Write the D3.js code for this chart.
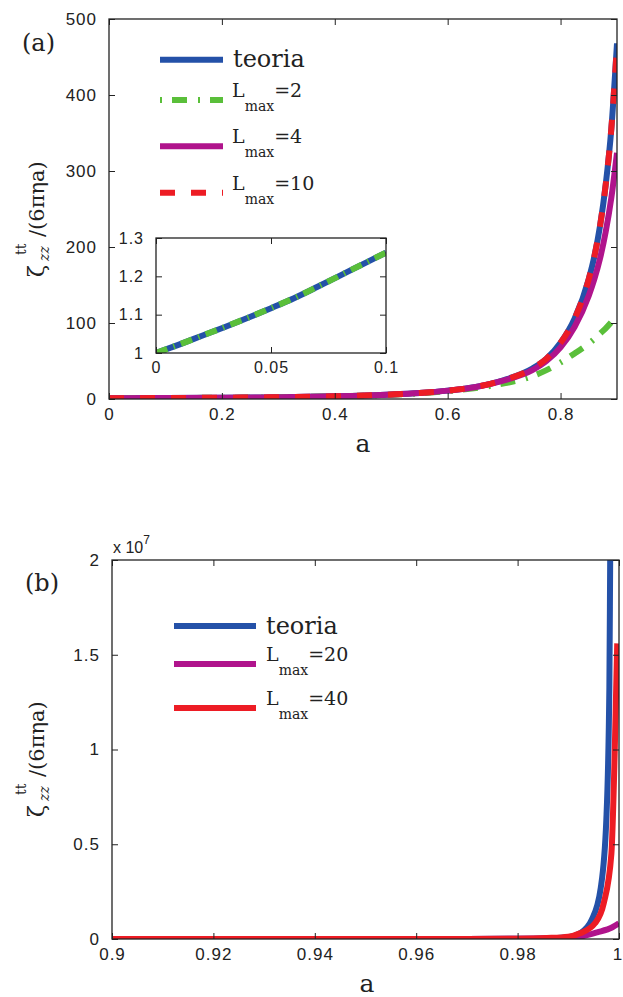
<!DOCTYPE html>
<html><head><meta charset="utf-8">
<script src="https://cdn.jsdelivr.net/npm/d3@7"></script>
<style>
body{margin:0;background:#fff;}
svg{display:block;}
.tick text{font-family:"Liberation Sans",Arial,sans-serif;font-size:17px;fill:#222;letter-spacing:1px;}
.serif{font-family:"DejaVu Serif",serif;fill:#222;}
</style></head>
<body>
<svg id="c" width="623" height="997"></svg>
<script>
// ---------- DATA ----------
// Panel (a)
const aMain   = [0,0.1,0.2,0.3,0.4,0.5,0.55,0.6,0.65,0.7,0.75,0.775,0.8,0.825,0.85,0.86,0.87,0.88,0.89,0.9];
const teoriaA = [1,1.26,1.65,2.3,3.5,5.9,7.9,11,16,25,40,53,74,106,158,188,228,282,356,468];
const lmax2A  = [1,1.26,1.64,2.25,3.4,5.6,7.4,10.3,14.5,20.5,30,38,48,60,73,79,86,93,101,110];
const lmax4A  = [1,1.26,1.65,2.3,3.5,5.9,7.9,11,15.8,24.5,38,50,68,95,136,158,185,220,265,324];
const lmax10A = [1,1.26,1.65,2.3,3.5,5.9,7.9,11,16,25,40,53,74,106,158,188,228,282,356,466];
// inset of (a)
const aInset      = [0,0.01,0.02,0.03,0.04,0.05,0.06,0.07,0.08,0.09,0.1];
const teoriaInset = [1,1.022,1.045,1.068,1.092,1.117,1.143,1.172,1.202,1.232,1.262];
const lmax2Inset  = [1,1.022,1.045,1.068,1.092,1.117,1.143,1.172,1.202,1.232,1.262];
// Panel (b)
const aTeoriaB = [0.9,0.95,0.97,0.98,0.985,0.99,0.9923,0.9946,0.9964,0.9975,0.9981,0.99826,0.9985];
const teoriaB  = [0,1e3,6e3,1.5e4,3e4,9e4,3e5,1e6,2.7e6,6.3e6,1.33e7,2.0e7,3.0e7];
const aL20B = [0.9,0.95,0.97,0.98,0.985,0.99,0.993,0.9957,0.9987,1.0];
const lmax20B = [0,1e3,6e3,1.5e4,3e4,7e4,1.6e5,3.5e5,6.2e5,8.3e5];
const aL40B = [0.9,0.95,0.97,0.98,0.9858,0.99,0.9923,0.9953,0.997,0.9985,0.99915,0.99965];
const lmax40B = [0,1e3,6e3,1.5e4,5e4,1.2e5,3e5,8.4e5,1.9e6,4.5e6,9.8e6,1.56e7];

const xTicksA = [0,0.2,0.4,0.6,0.8];
const yTicksA = [0,100,200,300,400,500];
const xTicksInset = [0,0.05,0.1];
const yTicksInset = [1,1.1,1.2,1.3];
const xTicksB = [0.9,0.92,0.94,0.96,0.98,1];
const yTicksB = [0,0.5e7,1e7,1.5e7,2e7];

const C = {blue:"#2451a8", green:"#5abf3a", magenta:"#b0148c", red:"#ed1c24"};

// ---------- DRAW ----------
const svg = d3.select("#c");
const zip = (xs, ys) => xs.map((x,i)=>[x,ys[i]]);

function panel(id, box, xd, yd, xt, yt, xfmt, yfmt, fs, labels=true){
  const x = d3.scaleLinear().domain(xd).range([box.l, box.r]);
  const y = d3.scaleLinear().domain(yd).range([box.b, box.t]);
  const g = svg.append("g");
  g.append("rect").attr("x",box.l).attr("y",box.t).attr("width",box.r-box.l).attr("height",box.b-box.t)
    .attr("fill","#fff");
  svg.append("clipPath").attr("id",id).append("rect")
    .attr("x",box.l).attr("y",box.t).attr("width",box.r-box.l).attr("height",box.b-box.t);
  const curves = g.append("g").attr("clip-path",`url(#${id})`);
  const axes = g.append("g");
  const mk = (ax, tr, showLab) => {
    const a = axes.append("g").attr("transform",tr).call(ax);
    a.select(".domain").remove();
    a.selectAll(".tick line").attr("stroke","#222").attr("stroke-width",1);
    a.selectAll(".tick text").style("font-size",fs+"px");
    if(!showLab) a.selectAll(".tick text").remove();
    return a;
  };
  const bx = mk(d3.axisBottom(x).tickValues(xt).tickFormat(xfmt).tickSize(-6).tickPadding(9), `translate(0,${box.b})`, labels);
  mk(d3.axisTop(x).tickValues(xt).tickSize(-6), `translate(0,${box.t})`, false);
  mk(d3.axisLeft(y).tickValues(yt).tickFormat(yfmt).tickSize(-6).tickPadding(12), `translate(${box.l},0)`, labels);
  mk(d3.axisRight(y).tickValues(yt).tickSize(-6), `translate(${box.r},0)`, false);
  axes.append("rect").attr("x",box.l).attr("y",box.t).attr("width",box.r-box.l).attr("height",box.b-box.t)
    .attr("fill","none").attr("stroke","#222").attr("stroke-width",1.3);
  return {x,y,curves,axes,bx};
}

function drawLine(p, data, color, w, dash){
  const line = d3.line().x(d=>p.x(d[0])).y(d=>p.y(d[1])).curve(d3.curveMonotoneX);
  p.curves.append("path").attr("d",line(data)).attr("fill","none")
    .attr("stroke",color).attr("stroke-width",w).attr("stroke-linejoin","round")
    .attr("stroke-dasharray",dash||null);
}

// Panel (a)
const pA = panel("clipA",{l:109,r:617,t:19,b:399},[0,0.9],[0,500],xTicksA,yTicksA,
  d=>d===0?"0":d3.format(".1f")(d), d=>d, 17);
drawLine(pA, zip(aMain,teoriaA), C.blue, 6);
drawLine(pA, zip(aMain,lmax2A), C.green, 6, "2,10,15,11");
drawLine(pA, zip(aMain,lmax4A), C.magenta, 6);
drawLine(pA, zip(aMain,lmax10A), C.red, 6, "15,16");

// inset
const pI = panel("clipI",{l:156,r:386,t:238,b:353},[0,0.1],[1,1.3],xTicksInset,yTicksInset,
  d=>d===0?"0":String(d), d=>d===1?"1":d3.format(".1f")(d), 16);
drawLine(pI, zip(aInset,teoriaInset), C.blue, 6);
drawLine(pI, zip(aInset,lmax2Inset), C.green, 6, "12,6.5,1.5,6.5");
pI.axes.raise();

// Panel (b)
const pB = panel("clipB",{l:112,r:619,t:560,b:939},[0.9,1],[0,2e7],xTicksB,yTicksB,
  d=>d===1?"1":String(d), d=>String(d/1e7), 17);
pB.bx.selectAll(".tick text").filter(d=>d===1).attr("dx",-1.5);
drawLine(pB, zip(aTeoriaB,teoriaB), C.blue, 6);
drawLine(pB, zip(aL20B,lmax20B), C.magenta, 6);
drawLine(pB, zip(aL40B,lmax40B), C.red, 6);

// x 10^7
const ex = svg.append("text").attr("x",113).attr("y",553)
  .style("font-family","Liberation Sans,Arial,sans-serif").style("font-size","16px").attr("fill","#222");
ex.append("tspan").text("x 10");
ex.append("tspan").attr("dy",-9).style("font-size","12px").text("7");

// ---------- LEGENDS ----------
function legendEntry(x1,x2,ly,color,dash,tx,label,sub,eq){
  svg.append("line").attr("x1",x1).attr("x2",x2).attr("y1",ly).attr("y2",ly)
    .attr("stroke",color).attr("stroke-width",6).attr("stroke-dasharray",dash||null);
  if(!sub){
    svg.append("text").attr("class","serif").attr("x",tx).attr("y",ly+7.5)
      .style("font-size","24px").text(label);
  } else {
    const t = svg.append("text").attr("class","serif").attr("x",tx).attr("y",ly-3)
      .style("font-size","19px");
    t.append("tspan").text(label);
    t.append("tspan").attr("dy",14).style("font-size","14px").text(sub);
    t.append("tspan").attr("dy",-14).text(eq);
  }
}
legendEntry(160,223,59.7,C.blue,null,233,"teoria");
legendEntry(160,223,100,C.green,"2,10,15,11",232,"L","max","=2");
legendEntry(160,223,146.3,C.magenta,null,232,"L","max","=4");
legendEntry(160,223,192.7,C.red,"15,16",232,"L","max","=10");

legendEntry(174,256,626,C.blue,null,266,"teoria");
legendEntry(174,256,664,C.magenta,null,266,"L","max","=20");
legendEntry(174,256,708,C.red,null,266,"L","max","=40");

// ---------- LABELS ----------
function yLabel(bx, by){
  const g = svg.append("g").attr("transform",`translate(${bx},${by}) rotate(-90)`);
  g.append("text").attr("class","serif").attr("x",0).attr("y",0).style("font-size","22px").text("ζ");
  g.append("text").attr("class","serif").attr("x",22).attr("y",-18).style("font-size","14px").text("tt");
  g.append("text").attr("class","serif").attr("x",16).attr("y",5).style("font-size","14px")
    .style("font-style","italic").text("zz");
  g.append("text").attr("class","serif").attr("x",40).attr("y",0).style("font-size","21px").text("/(6πηa)");
}
yLabel(44,277);
yLabel(44,817);

svg.append("text").attr("class","serif").attr("x",363).attr("y",452).attr("text-anchor","middle")
  .style("font-size","25px").text("a");
svg.append("text").attr("class","serif").attr("x",367).attr("y",992).attr("text-anchor","middle")
  .style("font-size","25px").text("a");
svg.append("text").attr("class","serif").attr("x",22).attr("y",51).style("font-size","24px").text("(a)");
svg.append("text").attr("class","serif").attr("x",25).attr("y",591).style("font-size","24px").text("(b)");
</script>
</body></html>
